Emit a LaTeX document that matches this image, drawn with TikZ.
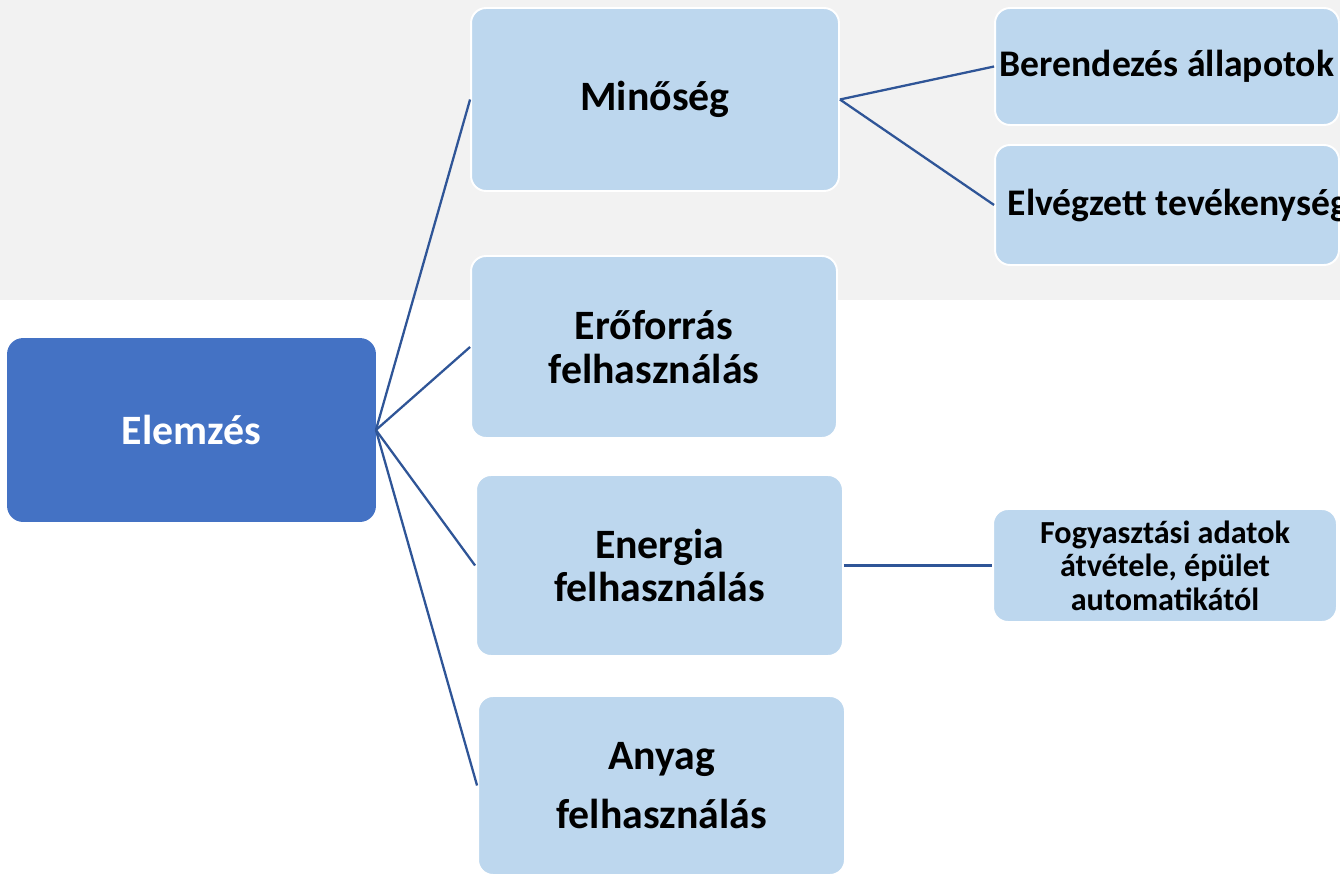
\documentclass[tikz,border=0pt]{standalone}
\usepackage{fontspec}
\setmainfont{Carlito}
\usetikzlibrary{positioning}
\definecolor{mdark}{HTML}{4472C4}
\definecolor{mlight}{HTML}{BDD7EE}
\definecolor{mline}{HTML}{2F5597}
\definecolor{mgray}{HTML}{F2F2F2}
\tikzset{box/.style = {draw=white, line width=1.1pt, fill=mlight, rounded corners=0.3cm, align=center, inner sep=0},
  bigtext/.style = {font=\fontsize{23.8}{25}\selectfont\bfseries},
  midtext/.style = {font=\fontsize{21.4}{23}\selectfont\bfseries},
  link/.style = {mline, line width=1.3pt}}

\begin{document}
\begin{tikzpicture}[x=0.02cm, y=-0.02cm]
    \useasboundingbox (0, 0) rectangle (1340, 875);
    \clip (0, 0) rectangle (1340, 875);
    \fill [mgray] (0, 0) rectangle (1340, 300);

    \node [box, bigtext, fill=mdark, draw=mdark, text=white, minimum width=7.34cm, minimum height=3.64cm] (elem) at (191.5, 430) {Elemzés};
    \node [box, bigtext, minimum width=7.36cm, minimum height=3.66cm] (min) at (655, 99.5) {Minőség};
    \node [box, bigtext, minimum width=7.32cm, minimum height=3.64cm] (ero) at (654, 347) {Erőforrás\\felhasználás};
    \node [box, bigtext, minimum width=7.34cm, minimum height=3.62cm] (ene) at (659.5, 565.5) {Energia\\felhasználás};
    \node [box, bigtext, minimum width=7.34cm, minimum height=3.58cm] (any) at (661.5, 785.5) {Anyag\\[9pt]felhasználás};

    \node [box, midtext, minimum width=6.88cm, minimum height=2.34cm] (ber) at (1167, 66.5) {Berendezés állapotok};
    \node [box, midtext, minimum width=6.88cm, minimum height=2.4cm] (elv) at (1167, 205) {\makebox[0pt]{\hspace{0.44cm}Elvégzett tevékenység}};
    \node [box, font=\fontsize{18.3}{19}\selectfont\bfseries, minimum width=6.88cm, minimum height=2.26cm] (fogy) at (1165, 565.5) {Fogyasztási adatok\\átvétele, épület\\automatikától};

    \draw [link] (elem.east) -- (min.west);
    \draw [link] (elem.east) -- (ero.west);
    \draw [link] (elem.east) -- (ene.west);
    \draw [link] (elem.east) -- (any.west);
    \draw [link] (min.east) -- (ber.west);
    \draw [link] (min.east) -- (elv.west);
    \draw [link] (ene.east) -- (fogy.west);
\end{tikzpicture}
\end{document}
